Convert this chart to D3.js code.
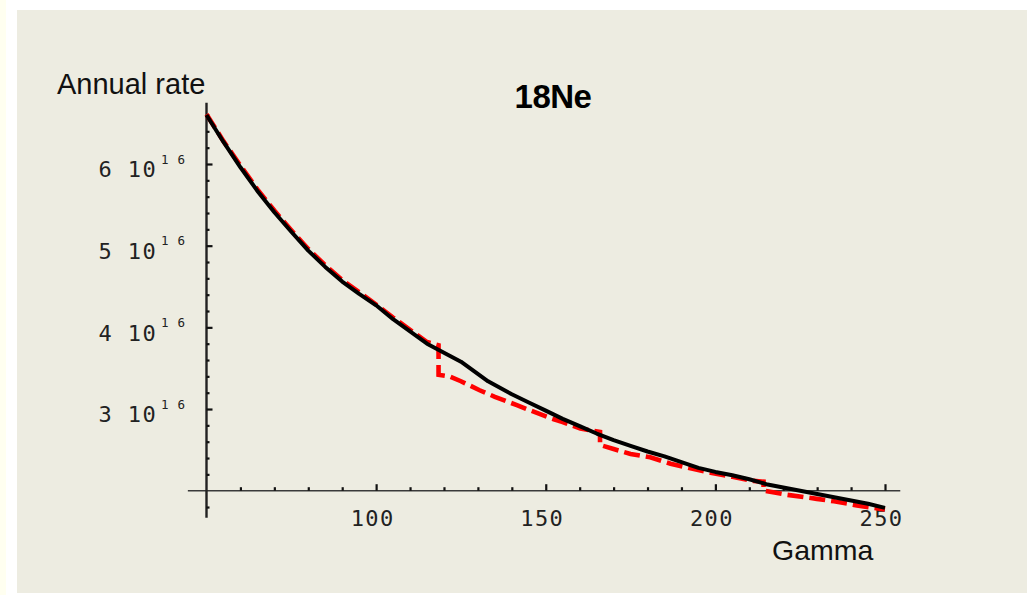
<!DOCTYPE html>
<html>
<head>
<meta charset="utf-8">
<script src="https://cdn.jsdelivr.net/npm/d3@7"></script>
<style>
  body { margin: 0; background: #fff; }
  svg { display: block; }
</style>
</head>
<body>
<div id="chart"></div>
<script>
// Data (rate in units of 10^16)
const blackGamma = [50, 55, 60, 65, 70, 75, 80, 85, 90, 95, 100, 105, 110, 115, 120, 125, 133, 140, 145, 150,
  155, 160, 165, 170, 175, 180, 185, 190, 195, 200, 205, 210, 215, 220, 225, 230, 235, 240, 245, 250];
const blackRate = [6.60, 6.27, 5.96, 5.67, 5.41, 5.17, 4.94, 4.74, 4.56, 4.41, 4.27, 4.10, 3.95, 3.80, 3.69, 3.58, 3.34, 3.18, 3.08, 2.98,
  2.88, 2.79, 2.70, 2.62, 2.55, 2.48, 2.42, 2.35, 2.28, 2.23, 2.19, 2.14, 2.08, 2.04, 2.00, 1.96, 1.92, 1.88, 1.84, 1.79];

const redGamma = [50, 55, 60, 65, 70, 75, 80, 85, 90, 95, 100, 105, 110, 115, 118.4, 118.4, 121.6, 125, 130.5, 135,
  141.3, 145, 151.3, 155, 160.2, 166, 166, 170, 175, 180.8, 186.8, 192, 198.6, 205, 211.3, 214.2, 214.2, 221.1,
  229.9, 235, 241.7, 250];
const redRate = [6.61, 6.28, 5.98, 5.69, 5.43, 5.19, 4.96, 4.76, 4.58, 4.43, 4.28, 4.12, 3.97, 3.82, 3.78, 3.42, 3.40, 3.34, 3.23, 3.15,
  3.05, 2.99, 2.89, 2.84, 2.76, 2.72, 2.56, 2.51, 2.45, 2.41, 2.33, 2.28, 2.22, 2.17, 2.12, 2.11, 2.00, 1.95,
  1.90, 1.87, 1.82, 1.77];

const xMajorTicks = [100, 150, 200, 250];
const xMinorTicks = [60, 70, 80, 90, 110, 120, 130, 140, 160, 170, 180, 190, 210, 220, 230, 240];
const yMajorTicks = [3, 4, 5, 6];
const yMinorTicks = [1.8, 2.2, 2.4, 2.6, 2.8, 3.2, 3.4, 3.6, 3.8, 4.2, 4.4, 4.6, 4.8, 5.2, 5.4, 5.6, 5.8, 6.2, 6.4, 6.6];
const xAxisExtent = [44.5, 254.5];
const yAxisExtent = [1.67, 6.75];

const width = 1034;
const height = 595;

const svg = d3.select("#chart")
  .append("svg")
  .attr("width", width)
  .attr("height", height);

// backgrounds
svg.append("rect").attr("width", width).attr("height", height).attr("fill", "#ffffff");
svg.append("rect").attr("width", 6).attr("height", height).attr("fill", "#fffff0");
svg.append("rect")
  .attr("x", 17).attr("y", 10)
  .attr("width", 1010).attr("height", 583)
  .attr("fill", "#edece1");

// scales: origin at (50, 2e16)
const x = d3.scaleLinear().domain([50, 250]).range([206.5, 885]);
const y = d3.scaleLinear().domain([2, 6]).range([490.7, 164]);

// axis lines
svg.append("line")
  .attr("x1", x(xAxisExtent[0])).attr("x2", x(xAxisExtent[1]))
  .attr("y1", y(2)).attr("y2", y(2))
  .attr("stroke", "#3a3a3a")
  .attr("stroke-width", 1.6);
svg.append("line")
  .attr("x1", x(50)).attr("x2", x(50))
  .attr("y1", y(yAxisExtent[1])).attr("y2", y(yAxisExtent[0]))
  .attr("stroke", "#222")
  .attr("stroke-width", 2.4);

const tickFont = "'DejaVu Sans Mono', monospace";

// x ticks (inward, pointing up)
const xMinor = svg.append("g")
  .attr("transform", `translate(0,${y(2)})`)
  .call(d3.axisBottom(x).tickValues(xMinorTicks).tickSize(-3.5).tickFormat(""));
const xMajor = svg.append("g")
  .attr("transform", `translate(0,${y(2)})`)
  .call(d3.axisBottom(x).tickValues(xMajorTicks).tickSize(-6.5).tickPadding(0));

xMajor.selectAll("text")
  .attr("y", 35)
  .attr("dy", 0)
  .attr("dx", -4)
  .style("font-family", tickFont)
  .style("font-size", "22px")
  .style("letter-spacing", "1.4px")
  .attr("fill", "#222");

// y ticks (inward, pointing right)
const yMinor = svg.append("g")
  .attr("transform", `translate(${x(50)},0)`)
  .call(d3.axisLeft(y).tickValues(yMinorTicks).tickSize(-3).tickFormat(""));
const yMajor = svg.append("g")
  .attr("transform", `translate(${x(50)},0)`)
  .call(d3.axisLeft(y).tickValues(yMajorTicks).tickSize(-6).tickFormat(""));

yMajor.selectAll(".tick").append("text")
  .attr("x", -108)
  .attr("y", 12.7)
  .attr("text-anchor", "start")
  .attr("fill", "#222")
  .style("font-family", tickFont)
  .style("font-size", "22px")
  .style("letter-spacing", "1.4px")
  .style("white-space", "pre")
  .each(function(d) {
    const t = d3.select(this);
    t.append("tspan").text(`${d} 10`);
    t.append("tspan")
      .attr("dx", 4)
      .attr("dy", -13.4)
      .style("font-size", "12.5px")
      .style("letter-spacing", "0.7px")
      .text("1 6");
  });

[xMinor, xMajor, yMinor, yMajor].forEach(g => {
  g.select(".domain").remove();
  g.selectAll(".tick line").attr("stroke", "#111").attr("stroke-width", 2.2);
});

// curves
const line = d3.line()
  .x(d => x(d[0]))
  .y(d => y(d[1]));

svg.append("path")
  .datum(redGamma.map((g, i) => [g, redRate[i]]))
  .attr("fill", "none")
  .attr("stroke", "#ff0000")
  .attr("stroke-width", 4.6)
  .attr("stroke-dasharray", "16,6")
  .attr("d", line);

svg.append("path")
  .datum(blackGamma.map((g, i) => [g, blackRate[i]]))
  .attr("fill", "none")
  .attr("stroke", "#000")
  .attr("stroke-width", 4)
  .attr("stroke-linejoin", "round")
  .attr("d", line);

// labels
svg.append("text")
  .attr("x", 57).attr("y", 93.5)
  .style("font-family", "'Liberation Sans', Arial, sans-serif")
  .style("font-size", "29px")
  .attr("fill", "#111")
  .text("Annual rate");

svg.append("text")
  .attr("x", 772).attr("y", 560)
  .style("font-family", "'Liberation Sans', Arial, sans-serif")
  .style("font-size", "28.5px")
  .attr("fill", "#111")
  .text("Gamma");

svg.append("text")
  .attr("x", 553).attr("y", 108)
  .attr("text-anchor", "middle")
  .style("font-family", "'Liberation Sans', Arial, sans-serif")
  .style("font-weight", "bold")
  .style("font-size", "33px")
  .style("letter-spacing", "-0.5px")
  .attr("fill", "#000")
  .text("18Ne");
</script>
</body>
</html>
